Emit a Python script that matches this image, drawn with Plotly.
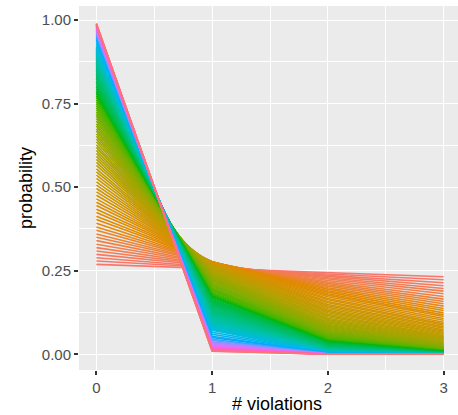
import math
import plotly.graph_objects as go

# number of violations (x axis)
violations = [0, 1, 2, 3]

# probability (in thousandths) of each line at 0, 1, 2 and 3 violations, lines ordered as drawn
prob_at_0 = [269, 279, 289, 299, 309, 319, 329, 340, 350, 360, 371, 381, 392, 403, 413, 424, 434, 445, 455,
             465, 476, 486, 496, 506, 516, 526, 536, 546, 555, 565, 574, 583, 592, 601, 610, 619, 627, 636,
             644, 652, 660, 668, 675, 683, 690, 698, 705, 712, 718, 725,
             732, 738, 744, 750, 756, 762, 768, 773, 779, 784, 789, 794, 799, 804, 809, 814, 818, 823, 827, 831,
             835, 839, 843, 847, 851, 855, 858, 862, 865, 868, 872, 875, 878, 881, 884, 887, 889, 892, 895, 897,
             900, 902, 905, 907, 909, 912, 914, 916, 918,
             922, 929, 936, 942, 948, 953, 957, 961, 965, 968, 971, 974, 976, 979, 981, 983, 984, 986, 987, 988,
             989, 990]
prob_at_1 = [256, 259, 261, 264, 266, 268, 270, 271, 273, 274, 275, 276, 276, 277, 277, 277, 277, 276, 276,
             275, 274, 273, 272, 271, 270, 268, 266, 264, 262, 260, 258, 256, 253, 251, 248, 245, 243, 240,
             237, 234, 231, 228, 225, 222, 219, 215, 212, 209, 206, 203,
             199, 196, 193, 190, 186, 183, 180, 177, 174, 171, 168, 164, 161, 158, 155, 152, 149, 147, 144, 141,
             138, 135, 133, 130, 127, 125, 122, 120, 117, 115, 112, 110, 107, 105, 103, 101, 99, 96, 94, 92,
             90, 88, 86, 84, 82, 81, 79, 77, 75,
             72, 66, 60, 54, 50, 45, 41, 37, 34, 31, 28, 25, 23, 21, 19, 17, 16, 14, 13, 12,
             10, 9]
prob_at_2 = [243, 240, 236, 233, 229, 225, 221, 216, 212, 208, 204, 199, 195, 190, 186, 181, 177, 172, 167,
             163, 158, 154, 149, 145, 141, 136, 132, 128, 124, 120, 116, 112, 108, 104, 101, 97, 94, 90,
             87, 84, 81, 78, 75, 72, 69, 67, 64, 61, 59, 57,
             54, 52, 50, 48, 46, 44, 42, 40, 39, 37, 36, 34, 33, 31, 30, 29, 27, 26, 25, 24,
             23, 22, 21, 20, 19, 18, 17, 17, 16, 15, 14, 14, 13, 13, 12, 11, 11, 10, 10, 9,
             9, 9, 8, 8, 7, 7, 7, 6, 6,
             6, 5, 4, 3, 3, 2, 2, 1, 1, 1, 1, 1, 1, 0, 0, 0, 0, 0, 0, 0,
             0, 0]
prob_at_3 = [232, 223, 214, 205, 197, 189, 181, 173, 165, 158, 151, 144, 137, 131, 124, 118, 113, 107, 102,
             96, 91, 87, 82, 78, 73, 69, 66, 62, 59, 55, 52, 49, 46, 44, 41, 39, 36, 34,
             32, 30, 28, 27, 25, 23, 22, 21, 19, 18, 17, 16,
             15, 14, 13, 12, 11, 11, 10, 9, 9, 8, 8, 7, 7, 6, 6, 5, 5, 5, 4, 4,
             4, 4, 3, 3, 3, 3, 2, 2, 2, 2, 2, 2, 2, 2, 1, 1, 1, 1, 1, 1,
             1, 1, 1, 1, 1, 1, 1, 1, 1,
             0, 0, 0, 0, 0, 0, 0, 0, 0, 0, 0, 0, 0, 0, 0, 0, 0, 0, 0, 0,
             0, 0]

# colour position of each line in the full hue wheel (185 groups in the original palette)
N_GROUPS = 185
colour_pos = list(range(99)) + list(range(100, 185, 4))

y_ticks = [0, 0.25, 0.5, 0.75, 1]
y_ticktext = ["0.00", "0.25", "0.50", "0.75", "1.00"]
x_ticktext = ["0", "1", "2", "3"]
x_title = "# violations"
y_title = "probability"


def hcl(h, c=100.0, l=65.0):
    hr = math.radians(h)
    u = c * math.cos(hr)
    v = c * math.sin(hr)
    Xn, Yn, Zn = 95.047, 100.0, 108.883
    Y = Yn * ((l + 16) / 116) ** 3
    den = Xn + 15 * Yn + 3 * Zn
    un = 4 * Xn / den
    vn = 9 * Yn / den
    up = u / (13 * l) + un
    vp = v / (13 * l) + vn
    X = Y * 9 * up / (4 * vp)
    Z = Y * (12 - 3 * up - 20 * vp) / (4 * vp)
    X, Y, Z = X / 100, Y / 100, Z / 100
    R = 3.240479 * X - 1.537150 * Y - 0.498535 * Z
    G = -0.969256 * X + 1.875992 * Y + 0.041556 * Z
    B = 0.055648 * X - 0.204043 * Y + 1.057311 * Z

    def g(t):
        t = 12.92 * t if t <= 0.0031308 else 1.055 * (max(t, 0) ** (1 / 2.4)) - 0.055
        return int(round(min(max(t, 0), 1) * 255))
    return "rgb(%d,%d,%d)" % (g(R), g(G), g(B))


fig = go.Figure()
n = min(len(prob_at_0), len(prob_at_1), len(prob_at_2), len(prob_at_3), len(colour_pos))
for i in range(n):
    ys = [prob_at_0[i] / 1000, prob_at_1[i] / 1000, prob_at_2[i] / 1000, prob_at_3[i] / 1000]
    fig.add_trace(go.Scatter(x=violations, y=ys, mode="lines",
                             line=dict(color=hcl(15 + 360.0 * colour_pos[i] / N_GROUPS), width=1.6),
                             showlegend=False, hoverinfo="skip"))

FONT = "Liberation Sans, Arial, sans-serif"
tickfont = dict(family=FONT, size=15, color="#4D4D4D")
titlefont = dict(family=FONT, size=18, color="black")
fig.update_layout(
    width=458, height=415,
    margin=dict(l=79, r=0, t=6, b=45),
    paper_bgcolor="white", plot_bgcolor="#EBEBEB",
    xaxis=dict(range=[-0.15, 3.124], tickmode="array", tickvals=violations,
               ticktext=x_ticktext, showgrid=True, gridcolor="white", gridwidth=1.2,
               minor=dict(tick0=0, dtick=0.5, showgrid=True, gridcolor="white", gridwidth=0.6),
               zeroline=False, ticks="outside", ticklen=4, tickwidth=1.5, tickcolor="#333333",
               tickfont=tickfont, automargin=False),
    yaxis=dict(range=[-0.047, 1.042], tickmode="array", tickvals=y_ticks,
               ticktext=y_ticktext, showgrid=True, gridcolor="white", gridwidth=1.2,
               minor=dict(tick0=0, dtick=0.125, showgrid=True, gridcolor="white", gridwidth=0.6),
               zeroline=False, ticks="outside", ticklen=4, tickwidth=1.5, tickcolor="#333333",
               tickfont=tickfont, automargin=False),
    annotations=[
        dict(text=x_title, xref="paper", yref="paper", x=0.522, y=-0.0934,
             xanchor="center", yanchor="middle", showarrow=False, font=titlefont),
        dict(text=y_title, xref="paper", yref="paper", x=-0.1398, y=0.5, textangle=-90,
             xanchor="center", yanchor="middle", showarrow=False, font=titlefont),
    ],
)
fig.write_html("out.html")
